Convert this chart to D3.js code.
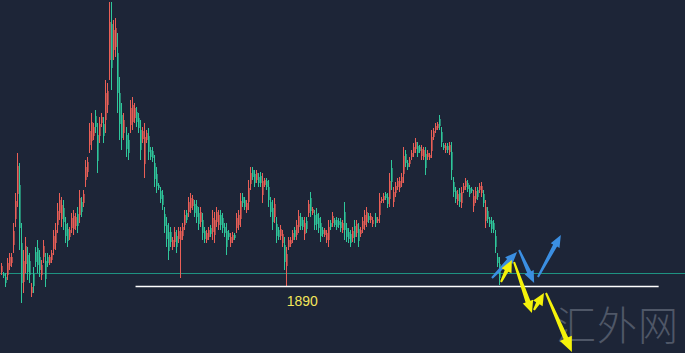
<!DOCTYPE html>
<html>
<head>
<meta charset="utf-8">
<script src="https://cdn.jsdelivr.net/npm/d3@7"></script>
<style>
  html, body { margin: 0; padding: 0; background: #1d2537; }
  svg { display: block; }
</style>
</head>
<body>
<div id="chart"></div>
<script>
// candles (no axis shown, price scale anchored on the 1890 line)
var open = [
  1904,1902,1899,1901,1910,1913,1931,1957,1982,1991,1933,1894,1912,1921,1915,1883,1902,1924,1928,1919,1901,1919,1915,1919,1913,1916,1927,1933,1951,1963,1957,1968,1952,1947,1939,
  1948,1947,1950,1962,1961,1974,1973,1996,2004,2031,2035,2040,2060,2041,2040,2053,2052,2056,2071,2116,2152,2126,2129,2123,2083,2061,2043,2041,2036,2051,2054,2058,2064,2058,
  2046,2037,2012,2036,2040,2026,2025,2013,2002,1991,1985,1981,1962,1951,1944,1944,1929,1934,1940,1937,1936,1940,1951,1963,1964,1968,1970,1972,1970,1963,1954,1956,1945,1936,1939,1948,
  1944,1941,1954,1951,1961,1958,1949,1945,1943,1933,1936,1941,1948,1951,1957,1979,1976,1966,1974,1992,2006,2002,1996,1999,2000,1981,1991,1995,1989,1974,1968,1959,1952,1946,1940,1933,1931,
  1910,1929,1932,1936,1946,1941,1949,1959,1956,1942,1955,1963,1978,1963,1961,1962,1958,1953,1946,1941,1936,1936,1953,1953,1956,1956,1955,1954,1946,1964,1948,1944,1942,1938,1950,1943,
  1947,1942,1947,1951,1954,1960,1956,1952,1959,1955,1961,1975,1976,1982,1979,1977,2008,1974,1983,1989,1988,1993,2002,2022,2013,2012,2019,2023,2027,2030,2029,2020,2019,2022,2019,2018,
  2025,2039,2046,2048,2057,2044,2031,2026,2030,2024,2024,1994,1985,1975,1983,1973,1986,1989,1993,1988,1987,1970,1977,1986,1986,1983,1982,1955,1965,1956,1955,1953,1940,1919,1912
];
var high = [
  1913,1904,1903,1918,1923,1923,1953,1983,2023,2013,1953,1926,1939,1929,1923,1893,1909,1929,1936,1926,1916,1936,1923,1923,1921,1926,1946,1953,1973,1983,1979,1976,1959,1953,1949,
  1963,1966,1963,1969,1986,1979,1986,2016,2019,2053,2063,2053,2066,2053,2059,2063,2059,2096,2093,2174,2174,2156,2158,2143,2099,2073,2063,2049,2043,2076,2079,2073,2069,2063,
  2056,2049,2053,2046,2048,2029,2029,2021,2009,1993,1989,1986,1969,1959,1953,1949,1939,1949,1946,1949,1949,1953,1966,1966,1979,1983,1981,1976,1976,1969,1969,1963,1949,1946,1949,1951,
  1966,1964,1969,1966,1966,1963,1953,1953,1946,1943,1944,1943,1963,1966,1983,1983,1979,1976,1996,2009,2009,2006,2006,2003,2004,2003,1998,1998,1996,1979,1976,1978,1959,1949,1951,1946,1939,
  1929,1939,1939,1946,1949,1956,1966,1963,1959,1959,1959,1976,1984,1969,1966,1968,1963,1959,1949,1948,1946,1956,1956,1964,1958,1959,1958,1958,1956,1974,1953,1948,1946,1949,1956,1956,
  1953,1949,1959,1966,1969,1963,1963,1959,1963,1959,1983,1979,1983,1984,1983,2003,2016,1989,1994,1998,1999,2003,2029,2026,2016,2019,2026,2033,2038,2034,2031,2031,2029,2029,2026,2023,
  2046,2048,2053,2054,2061,2049,2033,2033,2033,2034,2034,1999,1989,1986,1988,1989,1993,1998,1996,1991,1989,1986,1989,1989,1993,1994,1986,1976,1969,1959,1959,1956,1946,1923,1919
];
var low = [
  1901,1898,1889,1896,1906,1909,1923,1949,1969,1926,1873,1883,1903,1896,1893,1879,1883,1909,1903,1899,1896,1913,1889,1909,1911,1913,1921,1926,1943,1956,1949,1946,1933,1929,1936,
  1943,1941,1946,1943,1953,1959,1969,1989,1999,2023,2026,2036,2043,2003,2033,2049,2033,2043,2063,2096,2086,2116,2119,2063,2036,2026,2036,2019,2016,2043,2046,2053,2049,2043,
  2016,2033,1998,2033,2016,2016,2014,1989,1983,1986,1973,1966,1943,1929,1916,1929,1926,1929,1923,1933,1898,1936,1946,1953,1959,1963,1966,1959,1953,1946,1949,1936,1933,1933,1936,1939,
  1936,1933,1949,1946,1946,1943,1939,1921,1936,1929,1933,1936,1943,1946,1949,1969,1966,1963,1966,1986,1996,1989,1993,1989,1989,1973,1989,1986,1969,1959,1946,1953,1933,1936,1936,1929,1906,
  1890,1926,1929,1933,1936,1936,1943,1946,1946,1936,1943,1959,1959,1961,1946,1946,1943,1934,1939,1939,1933,1929,1946,1949,1949,1946,1948,1944,1943,1936,1934,1933,1929,1934,1933,1939,
  1929,1939,1943,1946,1949,1953,1953,1949,1949,1953,1953,1973,1973,1976,1968,1969,1986,1969,1979,1986,1984,1989,1993,2009,2006,2009,2016,2019,2023,2019,2023,2016,2016,2001,2016,2016,
  2018,2036,2043,2046,2046,2029,2026,2023,2023,2021,1996,1979,1973,1971,1969,1968,1983,1986,1984,1979,1983,1964,1973,1976,1983,1979,1969,1948,1953,1949,1943,1943,1923,1909,1891
];
var close = [
  1910,1900,1893,1913,1919,1919,1945,1975,2010,1948,1893,1915,1930,1904,1901,1889,1890,1914,1911,1906,1911,1930,1897,1913,1919,1923,1940,1946,1965,1976,1971,1954,1940,1935,1946,
  1958,1960,1959,1950,1978,1964,1982,2009,2014,2045,2054,2049,2049,2015,2052,2059,2040,2083,2085,2154,2108,2146,2148,2083,2052,2038,2056,2027,2023,2068,2071,2068,2054,2048,
  2026,2045,2039,2043,2024,2019,2018,1997,1990,1988,1977,1971,1950,1937,1925,1934,1936,1944,1929,1945,1945,1949,1961,1956,1974,1978,1977,1963,1959,1952,1964,1943,1937,1943,1946,1942,
  1958,1956,1964,1961,1951,1948,1943,1929,1939,1939,1941,1938,1958,1961,1975,1973,1969,1973,1988,2003,1999,1993,2003,1993,1993,1995,1996,1989,1976,1964,1954,1972,1940,1939,1947,1942,1914,
  1922,1936,1936,1943,1939,1951,1960,1950,1949,1953,1947,1972,1965,1967,1951,1952,1948,1940,1942,1946,1943,1949,1949,1960,1951,1949,1951,1948,1953,1946,1939,1937,1933,1945,1939,1952,
  1935,1946,1955,1961,1964,1956,1960,1956,1953,1957,1975,1977,1980,1978,1972,1995,1994,1984,1990,1995,1995,1999,2020,2013,2009,2016,2023,2029,2034,2023,2025,2027,2026,2008,2023,2021,
  2039,2045,2050,2052,2050,2034,2028,2030,2026,2031,2006,1984,1977,1982,1974,1984,1990,1995,1987,1982,1985,1980,1985,1979,1990,1990,1973,1969,1957,1952,1947,1946,1929,1913,1898
];

var supportLevel = 1890;       // white line + label
var supportFrom = 67, supportTo = 327.5;   // in bar index
var guideLevel = 1903;         // thin teal line

// projected paths, [barIndex, price]
var bluePaths = [
  [[244.5, 1898], [257, 1924]],
  [[258, 1926], [265.5, 1893]],
  [[267.4, 1899], [278.8, 1941]]
];
var yellowPaths = [
  [[249, 1894], [254.4, 1916]],
  [[255.5, 1914], [264.4, 1863]],
  [[265.4, 1866], [270.4, 1883]],
  [[271.4, 1883], [284.3, 1824]]
];

var width = 685, height = 353;
var n = Math.min(open.length, high.length, low.length, close.length);

var svg = d3.select("#chart")
    .append("svg")
    .attr("width", width)
    .attr("height", height);

svg.append("rect")
    .attr("width", width)
    .attr("height", height)
    .attr("fill", "#1d2537");

var x = d3.scaleLinear()
    .domain([0, 248])
    .range([1, 499]);

var y = d3.scaleLinear()
    .domain([2176, 1823])
    .range([0, 353]);

// watermark
svg.append("text")
    .attr("x", 556)
    .attr("y", 340)
    .attr("font-family", "'Noto Sans CJK SC', sans-serif")
    .attr("font-size", 40)
    .attr("font-weight", 300)
    .attr("fill", "#4f5767")
    .attr("letter-spacing", 1)
    .text("汇外网");

// teal guide
svg.append("line")
    .attr("x1", 0).attr("x2", width)
    .attr("y1", Math.round(y(guideLevel)) + 0.5)
    .attr("y2", Math.round(y(guideLevel)) + 0.5)
    .attr("stroke", "#1fae94")
    .attr("stroke-opacity", 0.8)
    .attr("stroke-width", 1.2);

var idx = d3.range(n);
var up = i => close[i] >= open[i];
var red = "#ea5f57", green = "#2fc79b";

var g = svg.append("g");

g.selectAll(".wick")
    .data(idx)
    .join("line")
    .attr("class", "wick")
    .attr("x1", i => Math.round(x(i)) + 0.5)
    .attr("x2", i => Math.round(x(i)) + 0.5)
    .attr("y1", i => y(high[i]))
    .attr("y2", i => y(low[i]))
    .attr("stroke", i => up(i) ? red : green)
    .attr("stroke-width", 1);

g.selectAll(".body")
    .data(idx)
    .join("rect")
    .attr("class", "body")
    .attr("x", i => Math.round(x(i)))
    .attr("width", 1.6)
    .attr("y", i => y(Math.max(open[i], close[i])))
    .attr("height", i => Math.max(1, Math.abs(y(open[i]) - y(close[i]))))
    .attr("fill", i => up(i) ? red : green);

// support line + label
svg.append("line")
    .attr("x1", x(supportFrom)).attr("x2", x(supportTo))
    .attr("y1", Math.round(y(supportLevel)) + 0.5)
    .attr("y2", Math.round(y(supportLevel)) + 0.5)
    .attr("stroke", "#ffffff")
    .attr("stroke-width", 1.3);

svg.append("text")
    .attr("x", x(150))
    .attr("y", y(supportLevel) + 20)
    .attr("text-anchor", "middle")
    .attr("font-family", "Arial, 'Liberation Sans', sans-serif")
    .attr("font-size", 14)
    .attr("fill", "#f3e55a")
    .text(supportLevel);

// arrow polygon: thin tail, thicker neck, triangle head
function arrowPoints(p0, p1, w0, w1, headL, headW) {
    var dx = p1[0] - p0[0], dy = p1[1] - p0[1];
    var len = Math.sqrt(dx * dx + dy * dy);
    var ux = dx / len, uy = dy / len;
    var nx = -uy, ny = ux;
    var bx = p1[0] - ux * headL, by = p1[1] - uy * headL;
    var pts = [
        [p0[0] + nx * w0 / 2, p0[1] + ny * w0 / 2],
        [bx + nx * w1 / 2, by + ny * w1 / 2],
        [bx + nx * headW / 2, by + ny * headW / 2],
        [p1[0], p1[1]],
        [bx - nx * headW / 2, by - ny * headW / 2],
        [bx - nx * w1 / 2, by - ny * w1 / 2],
        [p0[0] - nx * w0 / 2, p0[1] - ny * w0 / 2]
    ];
    return pts.map(p => p.join(",")).join(" ");
}

svg.selectAll(".blue")
    .data(bluePaths)
    .join("polygon")
    .attr("class", "blue")
    .attr("points", d => arrowPoints(
        [x(d[0][0]), y(d[0][1])], [x(d[1][0]), y(d[1][1])], 2, 4.5, 12, 10))
    .attr("fill", "#3b8fe2");

svg.selectAll(".yellow")
    .data(yellowPaths)
    .join("polygon")
    .attr("class", "yellow")
    .attr("points", (d, i) => arrowPoints(
        [x(d[0][0]), y(d[0][1])], [x(d[1][0]), y(d[1][1])],
        2, i == 3 || i == 1 ? 5 : 4, i == 3 ? 15 : 12, i == 3 ? 13 : 11))
    .attr("fill", "#f4f20a");
</script>
</body>
</html>
